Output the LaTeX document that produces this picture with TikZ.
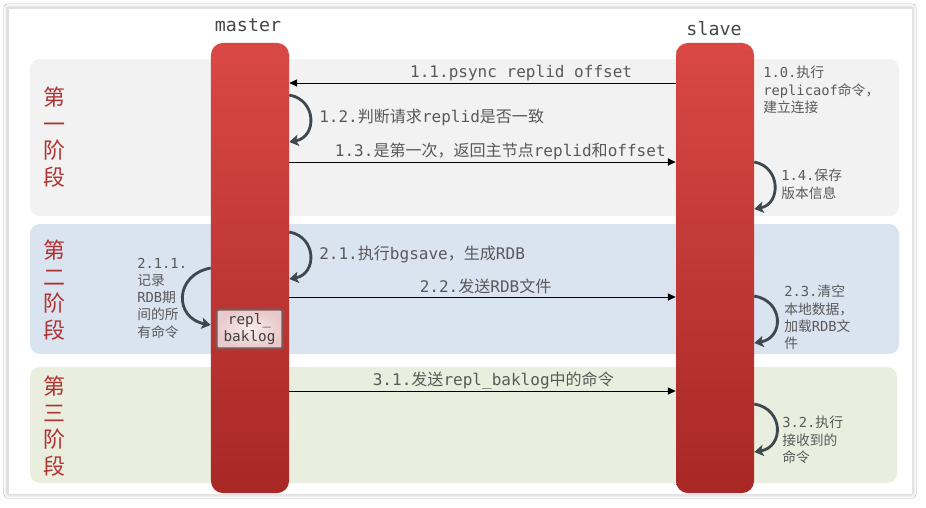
\documentclass[tikz,border=0pt]{standalone}
\usepackage{fontspec}
\setmonofont{DejaVu Sans Mono}
\newfontfamily\cjk{Noto Sans CJK SC}
\usetikzlibrary{arrows.meta, shadows.blur}

% Han characters and full-width marks in Noto Sans CJK, everything else in mono
\XeTeXinterchartokenstate=1
\newXeTeXintercharclass\cjkclass
\newcount\cjkcode
\cjkcode="3000
\loop \XeTeXcharclass\cjkcode=\cjkclass \advance\cjkcode by 1 \ifnum\cjkcode<"A000 \repeat
\cjkcode="FF00
\loop \XeTeXcharclass\cjkcode=\cjkclass \advance\cjkcode by 1 \ifnum\cjkcode<"FFF0 \repeat
\XeTeXinterchartoks 0 \cjkclass = {\cjk}
\XeTeXinterchartoks 4095 \cjkclass = {\cjk}
\XeTeXinterchartoks \cjkclass 0 = {\ttfamily}
\XeTeXinterchartoks \cjkclass 4095 = {\ttfamily}

\definecolor{stageone}{HTML}{F2F2F2}
\definecolor{stagetwo}{HTML}{DAE3F0}
\definecolor{stagethree}{HTML}{EAEEDF}
\definecolor{bartop}{HTML}{D94844}
\definecolor{barbot}{HTML}{A82826}
\definecolor{stagered}{HTML}{B03331}
\definecolor{txtgray}{HTML}{595959}
\definecolor{loopgray}{HTML}{3E484E}
\definecolor{bakin}{HTML}{F9EDED}
\definecolor{bakout}{HTML}{E9C9C9}
\definecolor{bakdraw}{HTML}{7E5656}

\begin{document}
\begin{tikzpicture}[x=0.025cm, y=-0.025cm,
    stage/.style={rounded corners=0.25cm},
    bar/.style={rounded corners=0.3cm, minimum width=1.95cm, minimum height=11.25cm,
        top color=bartop, bottom color=barbot, inner sep=0pt},
    phase/.style={font=\cjk\fontsize{15.6}{18.8}\selectfont, text=stagered, align=center},
    actor/.style={font=\ttfamily\fontsize{13}{15}\selectfont, text=txtgray!80!black},
    lbl/.style={font=\ttfamily\fontsize{11.4}{14}\selectfont, text=txtgray, inner sep=0pt},
    note/.style={font=\ttfamily\fontsize{9.8}{12.2}\selectfont, text=txtgray, align=left,
        anchor=north west, inner sep=0pt},
    msg/.style={draw=black, line width=0.6pt, -{Triangle[length=5.5pt, width=5pt]}},
    self/.style={draw=loopgray, line width=2pt, -{Stealth[length=6.5pt, width=8pt, inset=1.5pt]}}]

    \useasboundingbox (0,0) rectangle (926,507);
    \fill[white] (0,0) rectangle (926,507);
    \fill[white, draw=black!12, blur shadow={shadow xshift=0pt, shadow yshift=0pt,
        shadow blur radius=3pt, shadow opacity=30}] (8,8) rectangle (912,494);

    % three phases
    \fill[stageone, stage] (30,59) rectangle (899,216);
    \fill[stagetwo, stage] (30,224) rectangle (899,354);
    \fill[stagethree, stage] (30,367) rectangle (897,483);

    \node[phase] (phase1) at (54,137) {第\\一\\阶\\段};
    \node[phase] (phase2) at (54,290) {第\\二\\阶\\段};
    \node[phase] (phase3) at (54,426) {第\\三\\阶\\段};

    % lifelines
    \node[bar] (master) at (250,268) {};
    \node[bar] (slave) at (715,268) {};
    \node[actor] (mastername) at (248,25) {master};
    \node[actor] (slavename) at (714,29) {slave};

    \node[draw=bakdraw, line width=1.6pt, inner color=bakin, outer color=bakout, rounded corners=1.5pt,
        minimum width=1.65cm, minimum height=0.98cm, inner sep=0pt, align=center,
        font=\ttfamily\fontsize{10.2}{12.6}\selectfont, text=black!75] (baklog) at (249.5,329) {repl\_\\baklog};

    % phase 1
    \draw[msg] (slave.west |- 0,83) -- node[lbl, pos=0.4, anchor=base, yshift=0.13cm] {1.1.psync replid offset} (master.east |- 0,83);
    \draw[self] (master.east |- 0,95) .. controls (317,100) and (317,137) .. (master.east |- 0,142);
    \node[lbl, anchor=west] (l12) at (319,117) {1.2.判断请求replid是否一致};
    \draw[msg] (master.east |- 0,162) -- node[lbl, pos=0.546, anchor=base, yshift=0.13cm] {1.3.是第一次，返回主节点replid和offset} (slave.west |- 0,162);
    \node[note] (l10) at (763,66) {1.0.执行\\replicaof命令，\\建立连接};
    \draw[self] (slave.east |- 0,162) .. controls (781,167) and (781,204) .. (slave.east |- 0,209);
    \node[note] (l14) at (781,169) {1.4.保存\\版本信息};

    % phase 2
    \draw[self] (master.east |- 0,232) .. controls (317,237) and (317,274) .. (master.east |- 0,279);
    \node[lbl, anchor=west] (l21) at (319,254) {2.1.执行bgsave，生成RDB};
    \draw[self] (master.west |- 0,268) .. controls (174,275) and (174,318) .. (master.west |- 0,325);
    \node[note] (l211) at (137,258) {2.1.1.\\记录\\RDB期\\间的所\\有命令};
    \draw[msg] (master.east |- 0,297) -- node[lbl, pos=0.508, anchor=base, yshift=0.12cm] {2.2.发送RDB文件} (slave.west |- 0,297);
    \draw[self] (slave.east |- 0,296) .. controls (784,301) and (784,338) .. (slave.east |- 0,343);
    \node[note] (l23) at (784,285) {2.3.清空\\本地数据，\\加载RDB文\\件};

    % phase 3
    \draw[msg] (master.east |- 0,391) -- node[lbl, pos=0.528, anchor=base, yshift=0.14cm] {3.1.发送repl\_baklog中的命令} (slave.west |- 0,391);
    \draw[self] (slave.east |- 0,404) .. controls (784,409) and (784,447) .. (slave.east |- 0,452);
    \node[note] (l32) at (782,416) {3.2.执行\\接收到的\\命令};
\end{tikzpicture}
\end{document}
